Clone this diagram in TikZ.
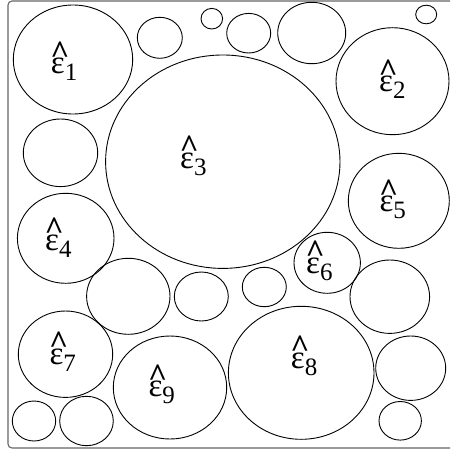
\documentclass[tikz,border=0pt]{standalone}
\usepackage{fontspec}
\setmainfont{Liberation Serif}
\newcommand\ehat[1]{\rlap{\kern-0.5pt\raisebox{10.6pt}{\fontsize{33}{33}\selectfont\bfseries\char"5E}}{\fontsize{33}{33}\selectfont ε}\raisebox{-7pt}{\fontsize{25}{25}\selectfont #1}}
\tikzset{
  bubble/.style={draw=black, line width=0.9pt},
  frame/.style={draw=black!60, line width=1.1pt, rounded corners=4pt},
  lbl/.style={inner sep=0pt, anchor=base west}
}
\begin{document}
\begin{tikzpicture}[x=1pt, y=-1pt]
\useasboundingbox (0,0) rectangle (450,452);
\clip (0,0) rectangle (450,452);
\draw[frame] (8,1) rectangle (460,448);
% bubbles
\draw[bubble] (73,59.5) ellipse (59.7 and 54.5);
\draw[bubble] (159.8,37.8) ellipse (22.5 and 20.5);
\draw[bubble] (211.8,18.7) ellipse (10.8 and 10.3);
\draw[bubble] (248.7,33.2) ellipse (22 and 19.8);
\draw[bubble] (311.7,33) ellipse (34 and 30.7);
\draw[bubble] (426.2,14.5) ellipse (10.5 and 9.3);
\draw[bubble] (392.5,81.2) ellipse (56.5 and 53.5);
\draw[bubble] (222.8,161.7) ellipse (117.2 and 106.7);
\draw[bubble] (60.5,152.8) ellipse (37.2 and 33.8);
\draw[bubble] (398.8,200.8) ellipse (50.5 and 47.5);
\draw[bubble] (65.7,238.3) ellipse (48.3 and 45);
\draw[bubble] (128.3,296.3) ellipse (41.7 and 38);
\draw[bubble] (201.3,296.5) ellipse (27 and 24.5);
\draw[bubble] (327.2,262.8) ellipse (33.2 and 30.5);
\draw[bubble] (264.3,287) ellipse (22 and 19.7);
\draw[bubble] (389.8,296.7) ellipse (39.8 and 36.7);
\draw[bubble] (65.5,354.2) ellipse (47.2 and 43.2);
\draw[bubble] (170,387.5) ellipse (56.7 and 51.5);
\draw[bubble] (301.2,372.8) ellipse (72.8 and 66.5);
\draw[bubble] (410.7,368.2) ellipse (35 and 32.2);
\draw[bubble] (400.2,420.8) ellipse (21.2 and 19.3);
\draw[bubble] (34,421) ellipse (21.7 and 20);
\draw[bubble] (86.5,421) ellipse (26.8 and 24.7);
% labels
\node[lbl] (e1) at (50.7,74) {\ehat{1}};
\node[lbl] (e2) at (379,91.7) {\ehat{2}};
\node[lbl] (e3) at (180,168.3) {\ehat{3}};
\node[lbl] (e4) at (45,250) {\ehat{4}};
\node[lbl] (e5) at (379.3,211.7) {\ehat{5}};
\node[lbl] (e6) at (306,273.3) {\ehat{6}};
\node[lbl] (e7) at (49.3,364.3) {\ehat{7}};
\node[lbl] (e8) at (290.7,368.3) {\ehat{8}};
\node[lbl] (e9) at (148.3,396.7) {\ehat{9}};
\end{tikzpicture}
\end{document}
